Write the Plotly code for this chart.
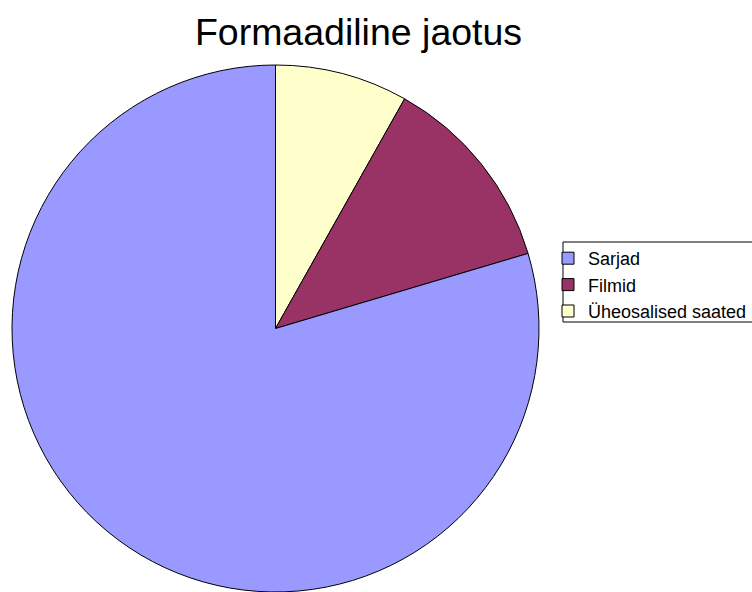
import plotly.graph_objects as go

labels = ["Üheosalised saated", "Filmid", "Sarjad"]
values = [8.15, 12.25, 79.6]
colors = ["#FFFFCC", "#993366", "#9999FF"]

W, H = 752, 592
cx, top = 275.5, 65
r = (H - top) / 2

fig = go.Figure(go.Pie(
    labels=labels,
    values=values,
    sort=False,
    direction="clockwise",
    rotation=0,
    textinfo="none",
    hoverinfo="label+percent",
    marker=dict(colors=colors, line=dict(color="black", width=1)),
    domain=dict(x=[(cx - r) / W, (cx + r) / W], y=[0, (H - top) / H]),
))

fig.update_layout(
    width=W, height=H,
    margin=dict(l=0, r=0, t=0, b=0, autoexpand=False),
    paper_bgcolor="white",
    font=dict(family="Liberation Sans, Arial, sans-serif", color="black"),
    title=dict(text="Formaadiline jaotus", font=dict(size=37.5, color="black"),
               x=358.5 / W, xanchor="center", xref="container",
               y=1 - 32 / H, yanchor="middle", yref="container"),
    legend=dict(x=548 / W, xanchor="left", y=1 - 240 / H, yanchor="top",
                xref="container", yref="container",
                borderwidth=0, bgcolor="rgba(0,0,0,0)",
                font=dict(size=18, color="black"), traceorder="reversed"),
    shapes=[dict(type="rect", xref="paper", yref="paper",
                 x0=563 / W, x1=770 / W, y0=1 - 322 / H, y1=1 - 242 / H,
                 line=dict(color="black", width=1), fillcolor="rgba(0,0,0,0)")],
    showlegend=True,
)

fig.write_html("out.html", config={"displayModeBar": False},
               post_script="document.body.style.margin='0';document.body.style.overflow='hidden';")
